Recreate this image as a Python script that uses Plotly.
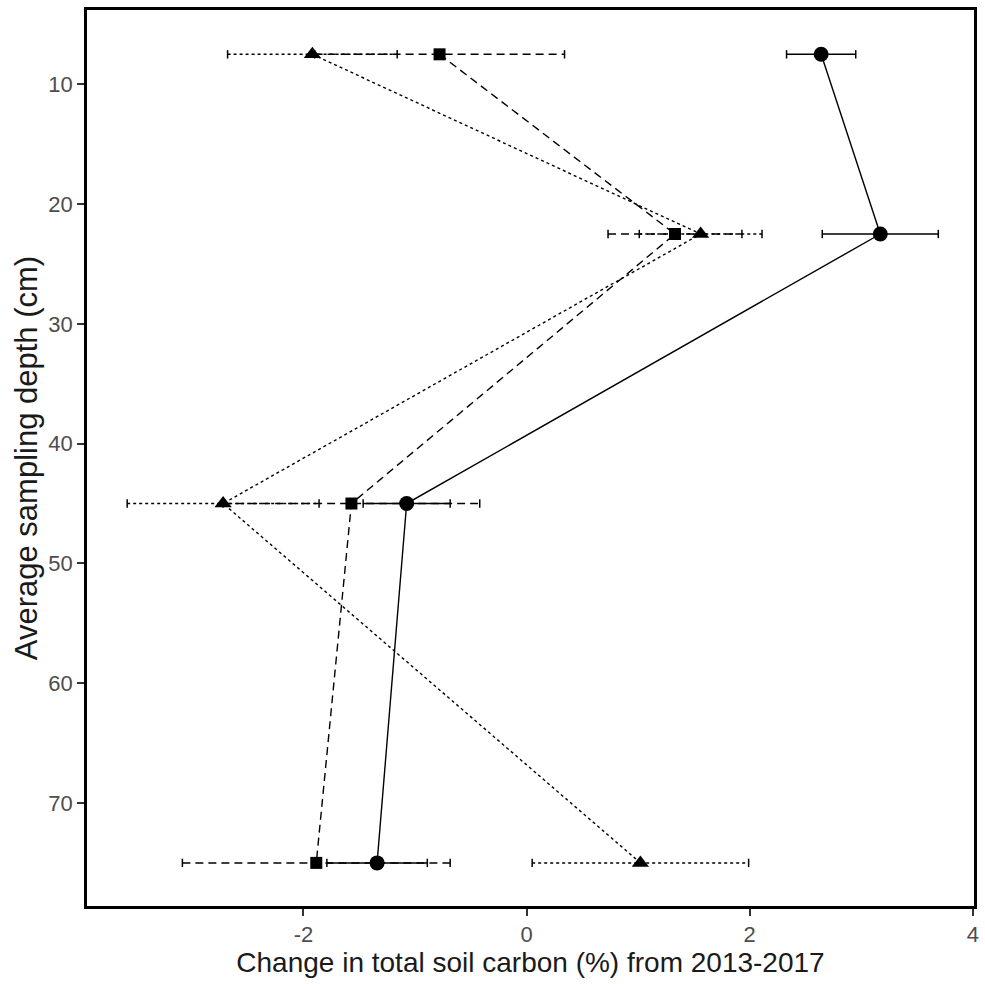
import plotly.graph_objects as go

depth = [7.5, 22.5, 45, 75]

circle_x = [2.64, 3.17, -1.075, -1.34]
circle_err = [0.31, 0.52, 0.39, 0.45]

square_x = [-0.78, 1.33, -1.57, -1.885]
square_err = [1.12, 0.60, 1.15, 1.20]

triangle_x = [-1.92, 1.56, -2.72, 1.02]
triangle_err = [0.76, 0.55, 0.86, 0.97]

x_ticks = [-2, 0, 2, 4]
x_ticktext = ["-2", "0", "2", "4"]
y_ticks = [10, 20, 30, 40, 50, 60, 70]

groups = [
    ("circle", circle_x, circle_err, "solid", "circle", 15),
    ("square", square_x, square_err, "8px,5px", "square", 12),
    ("triangle", triangle_x, triangle_err, "3px,3px", "triangle-up", 15),
]

fig = go.Figure()

for name, xs, errs, dash, sym, msize in groups:
    ex, ey = [], []
    for x, e, d in zip(xs, errs, depth):
        ex += [x - e, x + e, None]
        ey += [d, d, None]
    fig.add_trace(go.Scatter(
        x=ex, y=ey, mode="lines+markers",
        line=dict(color="black", width=1.5, dash=dash),
        marker=dict(symbol="line-ns-open", size=6, color="black",
                    line=dict(color="black", width=1.5)),
        showlegend=False, hoverinfo="skip"))
    fig.add_trace(go.Scatter(
        x=xs, y=depth, mode="lines+markers", name=name,
        line=dict(color="black", width=1.4, dash=dash),
        marker=dict(symbol=sym, size=msize, color="black"),
        showlegend=False))

fig.update_layout(
    width=985, height=984,
    margin=dict(l=87, r=6, t=10, b=78),
    paper_bgcolor="white", plot_bgcolor="white",
    font=dict(family="Liberation Sans, Arial, sans-serif", color="black"),
    showlegend=False,
)
fig.update_xaxes(
    range=[-3.94, 4.01], tickvals=x_ticks, ticktext=x_ticktext,
    ticks="outside", ticklen=7, tickwidth=1.5,
    tickcolor="#333333", tickfont=dict(size=22, color="#4D4D4D"),
    showgrid=False, zeroline=False,
    showline=True, linecolor="black", linewidth=2.5, mirror=True,
    title=dict(text="Change in total soil carbon (%) from 2013-2017",
               font=dict(size=28, color="#1a1a1a"), standoff=5),
)
fig.update_yaxes(
    range=[78.6, 3.8], tickvals=y_ticks, ticks="outside", ticklen=7,
    tickwidth=1.5,
    tickcolor="#333333", tickfont=dict(size=22, color="#4D4D4D"),
    showgrid=False, zeroline=False,
    showline=True, linecolor="black", linewidth=2.5, mirror=True,
    title=dict(text="Average sampling depth (cm)",
               font=dict(size=31, color="#1a1a1a"), standoff=2),
)

fig.write_html("out.html")
